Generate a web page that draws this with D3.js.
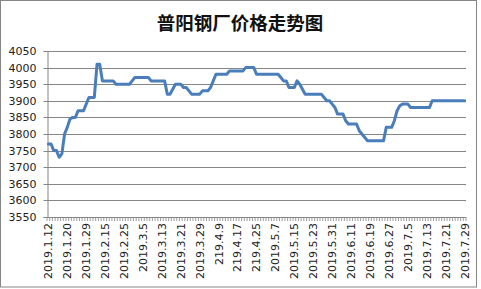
<!DOCTYPE html>
<html><head><meta charset="utf-8">
<script src="https://cdn.jsdelivr.net/npm/d3@7"></script>
<style>body{margin:0;background:#fff}svg{display:block}</style>
</head><body>
<script>
const title = "普阳钢厂价格走势图";
const tickLabels = ["2019.1.12","2019.1.20","2019.1.29","2019.2.15","2019.2.25","2019.3.5","2019.3.13","2019.3.21","2019.3.29","219.4.9","219.4.17","219.4.25","2019.5.7","2019.5.15","2019.5.23","2019.5.31","2019.6.11","2019.6.19","2019.6.27","2019.7.5","2019.7.13","2019.7.21","2019.7.29"];
const labelEvery = 7;
const prices = [
3770,3770,3750,3750,3730,3740,3800,3820,3845,3850,
3850,3870,3870,3870,3890,3910,3910,3910,4010,4010,
3960,3960,3960,3960,3960,3950,3950,3950,3950,3950,
3950,3960,3970,3970,3970,3970,3970,3970,3960,3960,
3960,3960,3960,3960,3920,3920,3935,3950,3950,3950,
3940,3940,3930,3920,3920,3920,3920,3930,3930,3930,
3940,3960,3980,3980,3980,3980,3980,3990,3990,3990,
3990,3990,3990,4000,4000,4000,4000,3980,3980,3980,
3980,3980,3980,3980,3980,3980,3970,3960,3960,3940,
3940,3940,3960,3950,3935,3920,3920,3920,3920,3920,
3920,3920,3910,3900,3900,3890,3880,3860,3860,3860,
3840,3830,3830,3830,3830,3810,3800,3790,3780,3780,
3780,3780,3780,3780,3780,3820,3820,3820,3840,3870,
3885,3890,3890,3890,3880,3880,3880,3880,3880,3880,
3880,3880,3900,3900,3900,3900,3900,3900,3900,3900,
3900,3900,3900,3900,3900];
const yTicks = [3550,3600,3650,3700,3750,3800,3850,3900,3950,4000,4050];

(function(){
const W = 481, H = 289;
const svg = d3.select("body").append("svg").attr("width", W).attr("height", H);
svg.append("rect").attr("x",0.5).attr("y",0.5).attr("width",476).attr("height",286.5)
  .attr("fill","#fff").attr("stroke","#868686").attr("stroke-width",1);

const pL = 47, pR = 466, pT = 51, pB = 217;
const idx = d3.range(prices.length);
const x = d3.scaleBand().domain(idx).range([pL, pR]).padding(0);
const y = d3.scaleLinear().domain([3550, 4050]).range([pB, pT]);

svg.append("text").attr("x", 240).attr("y", 30).attr("text-anchor","middle")
  .attr("font-family","'Noto Sans CJK SC'").attr("font-weight","bold")
  .attr("font-size", 18.5).attr("fill","#111").text(title);

svg.append("g").selectAll("line").data(yTicks.filter(v => v > 3550)).join("line")
  .attr("x1", pL).attr("x2", pR)
  .attr("y1", d => Math.round(y(d)) + 0.5).attr("y2", d => Math.round(y(d)) + 0.5)
  .attr("stroke","#868686").attr("stroke-width",1);

const yAxis = svg.append("g").attr("transform", `translate(${pL + 0.5},0)`)
  .call(d3.axisLeft(y).tickValues(yTicks).tickSize(4).tickPadding(7).tickFormat(d3.format("d")));
yAxis.select(".domain").attr("stroke","#868686");
yAxis.selectAll(".tick line").attr("stroke","#868686");
yAxis.selectAll(".tick").attr("transform", d => `translate(0,${Math.round(y(d)) + 0.5})`);
yAxis.selectAll("text").attr("font-family","'DejaVu Sans'").attr("font-size",11).attr("fill","#222");

const gx = svg.append("g");
gx.append("line").attr("x1", pL).attr("x2", pR).attr("y1", pB + 0.5).attr("y2", pB + 0.5)
  .attr("stroke","#868686");
const bounds = d3.range(prices.length + 1).map(i => pL + i * x.bandwidth());
gx.selectAll("line.t").data(bounds).join("line").attr("class","t")
  .attr("x1", d => d).attr("x2", d => d).attr("y1", pB).attr("y2", pB + 4)
  .attr("stroke","#868686").attr("stroke-width",0.8);
gx.selectAll("text").data(tickLabels).join("text")
  .attr("transform", (d,i) => `translate(${x(i*labelEvery) + x.bandwidth()/2},223) rotate(-90)`)
  .attr("text-anchor","end").attr("dy","0.35em")
  .attr("font-family","'DejaVu Sans'").attr("font-size",11).attr("fill","#222")
  .text(d => d);

svg.append("path").datum(prices)
  .attr("d", d3.line().x((d,i) => x(i) + x.bandwidth()/2).y(d => y(d)))
  .attr("fill","none").attr("stroke","#4A7EBB").attr("stroke-width",3)
  .attr("stroke-linejoin","round").attr("stroke-linecap","round");
})();
</script>
</body></html>
